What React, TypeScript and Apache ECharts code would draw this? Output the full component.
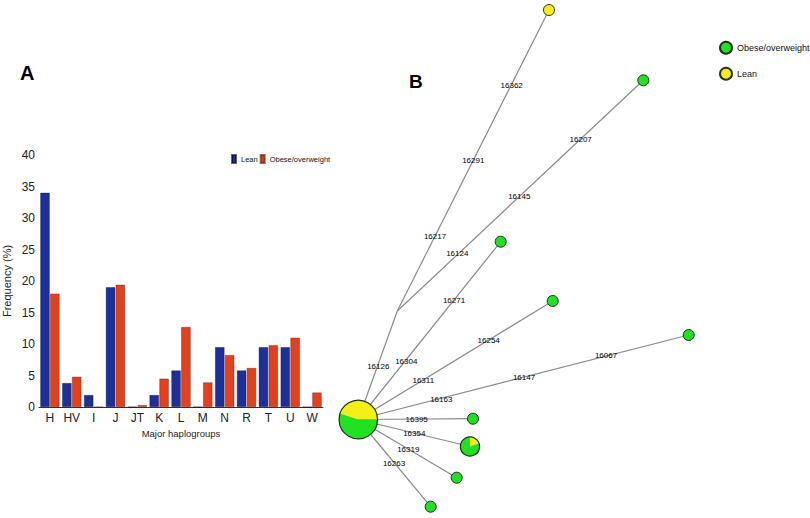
import React, { useEffect, useRef } from "react";
import * as echarts from "echarts";

// ---------- Panel A data ----------
const categories = ["H", "HV", "I", "J", "JT", "K", "L", "M", "N", "R", "T", "U", "W"];
const leanFreq = [34, 3.8, 1.9, 19, 0, 1.9, 5.8, 0, 9.5, 5.8, 9.5, 9.5, 0];
const obeseFreq = [18, 4.8, 0, 19.4, 0.3, 4.5, 12.7, 3.9, 8.25, 6.2, 9.8, 11, 2.3];
const yTicks = { min: 0, max: 40, interval: 5 };

// ---------- Panel B data (network layout coordinates) ----------
const netPoints: Record<string, [number, number]> = {
  hub: [358.3, 419.5],
  branch: [397.3, 311],
  n1: [549, 10],
  n2: [643.3, 80.3],
  n3: [500.7, 241.7],
  n4: [552.7, 301],
  n5: [688.7, 335],
  n6: [473, 418.7],
  p2: [470, 446.5],
  n8: [456.7, 477.7],
  n9: [430.7, 506.7],
};
const edges: [string, string][] = [
  ["hub", "branch"], ["branch", "n1"], ["branch", "n2"], ["hub", "n3"], ["hub", "n4"],
  ["hub", "n5"], ["hub", "n6"], ["hub", "p2"], ["hub", "n8"], ["hub", "n9"],
];
const obeseNodes = ["n2", "n3", "n4", "n5", "n6", "n8", "n9"];
const leanNodes = ["n1"];
// pie nodes: point id, lean count, obese count
const pieNodeIds = ["hub", "p2"];
const pieLean = [9, 1];
const pieObese = [11, 4];
const mutationLabels = [
  "16362", "16291", "16217", "16207", "16145", "16124", "16271", "16304", "16126",
  "16311", "16254", "16163", "16147", "16067", "16395", "16354", "16319", "16263",
];
const mutationPos: [number, number][] = [
  [511.7, 85.3], [473.3, 160.7], [435, 236.3], [580.7, 139], [519.3, 196.3], [457.3, 253.3],
  [454, 300.3], [406.3, 361], [378.3, 366], [423.3, 380.7], [488.7, 340], [441.3, 399],
  [524, 377.3], [606, 355.7], [416.7, 419], [414.3, 433.3], [408.3, 449], [394, 463.7],
];

// styles
const BLUE = "#1c309c";
const ORANGE = "#e3401b";
const GREEN = "#22e022";
const YELLOW = "#f4ef18";
const FONT = "'Liberation Sans', Arial, Helvetica, sans-serif";
const pieYellowEndDeg = [0, -19];
const legendNames: Record<string, string> = { netObese: "Obese/overweight", netLean: "Lean" };

export default function App() {
  const ref = useRef<HTMLDivElement>(null);
  useEffect(() => {
    document.body.style.margin = "0";
    if (!ref.current) return;
    const chart = echarts.init(ref.current, null, { renderer: "svg" });

    const pieData = pieNodeIds.map((id, i) => [netPoints[id][0], netPoints[id][1], pieLean[i], pieObese[i], i]);

    chart.setOption({
      animation: false,
      textStyle: { fontFamily: FONT },
      title: [
        { text: "A", left: 20, top: 63, padding: 0, textStyle: { fontSize: 20, fontWeight: "bold", color: "#000", fontFamily: FONT } },
        { text: "B", left: 409, top: 72, padding: 0, textStyle: { fontSize: 19, fontWeight: "bold", color: "#000", fontFamily: FONT } },
      ],
      legend: [
        {
          data: ["Lean", "Obese/overweight"],
          left: 231,
          top: 154,
          padding: 0,
          itemWidth: 4,
          itemHeight: 8,
          itemGap: 2,
          icon: "rect",
          textStyle: { fontSize: 7.5, color: "#111", fontFamily: FONT },
        },
        {
          data: ["netObese", "netLean"],
          orient: "vertical",
          left: 719,
          top: 40.7,
          padding: 0,
          itemWidth: 12,
          itemHeight: 12,
          itemGap: 12,
          icon: "circle",
          formatter: (n: string) => legendNames[n] || n,
          textStyle: { fontSize: 9, color: "#111", fontFamily: FONT },
        },
      ],
      grid: [
        { left: 39, top: 155, width: 284, height: 252 },
        { left: 0, top: 0, width: 810, height: 518 },
      ],
      xAxis: [
        {
          gridIndex: 0,
          type: "category",
          data: categories,
          axisLine: { show: true, lineStyle: { color: "#333", width: 1 } },
          axisTick: { show: false },
          axisLabel: { fontSize: 12, color: "#222", margin: 5, fontFamily: FONT },
          name: "Major haplogroups",
          nameLocation: "middle",
          nameGap: 21,
          nameTextStyle: { fontSize: 9.5, color: "#222", fontFamily: FONT },
        },
        { gridIndex: 1, type: "value", min: 0, max: 810, show: false },
      ],
      yAxis: [
        {
          gridIndex: 0,
          type: "value",
          min: yTicks.min,
          max: yTicks.max,
          interval: yTicks.interval,
          axisLine: { show: false },
          axisTick: { show: false },
          splitLine: { show: false },
          axisLabel: { fontSize: 12, color: "#222", margin: 4, fontFamily: FONT },
          name: "Frequency (%)",
          nameLocation: "middle",
          nameRotate: 90,
          nameGap: 27,
          nameTextStyle: { fontSize: 11, color: "#222", fontFamily: FONT },
        },
        { gridIndex: 1, type: "value", min: 0, max: 518, inverse: true, show: false },
      ],
      series: [
        {
          name: "Lean",
          type: "bar",
          xAxisIndex: 0,
          yAxisIndex: 0,
          data: leanFreq,
          barGap: "5%",
          barCategoryGap: "12%",
          itemStyle: { color: BLUE, borderColor: "rgba(0,0,40,0.6)", borderWidth: 0.6 },
        },
        {
          name: "Obese/overweight",
          type: "bar",
          xAxisIndex: 0,
          yAxisIndex: 0,
          data: obeseFreq,
          itemStyle: { color: ORANGE, borderColor: "rgba(90,20,0,0.6)", borderWidth: 0.6 },
        },
        {
          type: "lines",
          coordinateSystem: "cartesian2d",
          xAxisIndex: 1,
          yAxisIndex: 1,
          silent: true,
          z: 1,
          lineStyle: { color: "#8a8a8a", width: 1.2, opacity: 1 },
          data: edges.map(([a, b]) => ({ coords: [netPoints[a], netPoints[b]] })),
        },
        {
          name: "netObese",
          type: "scatter",
          xAxisIndex: 1,
          yAxisIndex: 1,
          symbolSize: 11,
          z: 4,
          itemStyle: { color: GREEN, borderColor: "#1e2e1e", borderWidth: 1, opacity: 1 },
          data: obeseNodes.map((id) => netPoints[id]),
        },
        {
          name: "netLean",
          type: "scatter",
          xAxisIndex: 1,
          yAxisIndex: 1,
          symbolSize: 11,
          z: 4,
          itemStyle: { color: YELLOW, borderColor: "#2e2e1e", borderWidth: 1, opacity: 1 },
          data: leanNodes.map((id) => netPoints[id]),
        },
        {
          type: "custom",
          xAxisIndex: 1,
          yAxisIndex: 1,
          z: 5,
          silent: true,
          data: pieData,
          renderItem: (params: any, api: any) => {
            const c = api.coord([api.value(0), api.value(1)]);
            const lean = api.value(2);
            const obese = api.value(3);
            const idx = api.value(4);
            const n = lean + obese;
            const r = 4.3 * Math.sqrt(n);
            const end = (pieYellowEndDeg[idx] * Math.PI) / 180;
            const leanAng = (lean / n) * Math.PI * 2;
            return {
              type: "group",
              children: [
                {
                  type: "sector",
                  shape: { cx: c[0], cy: c[1], r0: 0, r, startAngle: end - leanAng, endAngle: end, clockwise: true },
                  style: { fill: YELLOW, stroke: null },
                },
                {
                  type: "sector",
                  shape: { cx: c[0], cy: c[1], r0: 0, r, startAngle: end, endAngle: end + Math.PI * 2 - leanAng, clockwise: true },
                  style: { fill: GREEN, stroke: null },
                },
                {
                  type: "circle",
                  shape: { cx: c[0], cy: c[1], r },
                  style: { fill: "none", stroke: "#1e2e1e", lineWidth: 1.2 },
                },
              ],
            };
          },
        },
        {
          type: "scatter",
          xAxisIndex: 1,
          yAxisIndex: 1,
          symbolSize: 1,
          z: 6,
          silent: true,
          itemStyle: { color: "rgba(0,0,0,0)" },
          label: {
            show: true,
            position: "inside",
            formatter: "{b}",
            fontSize: 8,
            color: "#000",
            opacity: 1,
            textBorderWidth: 0,
            textBorderColor: "transparent",
            fontFamily: FONT,
          },
          data: mutationPos.map((p, i) => ({ value: p, name: mutationLabels[i] })),
        },
      ],
    });
    return () => chart.dispose();
  }, []);
  return <div ref={ref} style={{ width: 810, height: 518 }} />;
}
